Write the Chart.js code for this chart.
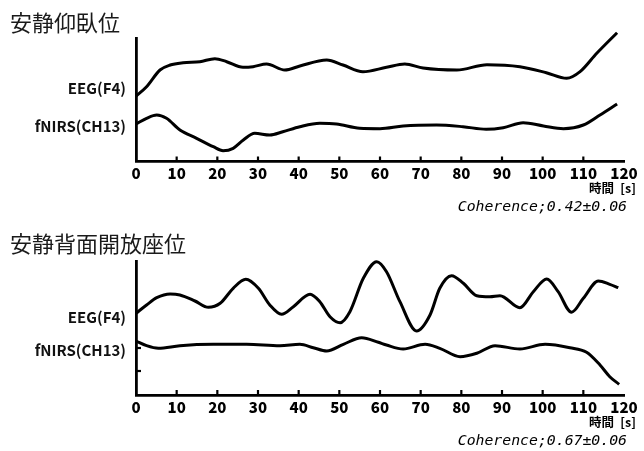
<!DOCTYPE html>
<html><head><meta charset="utf-8">
<script src="https://cdn.jsdelivr.net/npm/chart.js@4/dist/chart.umd.min.js"></script>
<style>
html,body{margin:0;padding:0;background:#fff;}
#wrap{position:relative;width:644px;height:451px;overflow:hidden;background:#fff;}
#c1{position:absolute;left:0;top:0;}
#c2{position:absolute;left:0;top:225px;}
</style></head><body>
<div id="wrap"><canvas id="c1" width="644" height="225"></canvas><canvas id="c2" width="644" height="226"></canvas></div>
<script>
// ---- data ----
const timeTicks = [0, 10, 20, 30, 40, 50, 60, 70, 80, 90, 100, 110, 120];
const seriesNames = ['EEG(F4)', 'fNIRS(CH13)'];
const panelTitles = ['安静仰臥位', '安静背面開放座位'];
const coherenceLabels = ['Coherence;0.42±0.06', 'Coherence;0.67±0.06'];
const axisTitle = '時間 [s]';

// panel 1 : 安静仰臥位 (arbitrary units)
const supineEEGTime = [0, 2.6, 5.9, 8.4, 11.6, 15.7, 19.4, 22.3, 26.3, 28.8, 32.1, 36.6, 40.3, 46.9, 50.9, 55.8, 61.6, 66.1, 70.6, 78.9, 86.3, 94.4, 100.9, 105.9, 109.2, 113.3, 118.3];
const supineEEG     = [65.5, 74.8, 91.5, 96.5, 98.8, 99.8, 102.8, 99.8, 94.2, 94.8, 97.5, 91.5, 95.5, 101.5, 96.5, 89.8, 94.2, 97.5, 93.5, 91.5, 96.8, 94.8, 88.8, 83.2, 89.8, 108.2, 128.8];
const supineNIRSTime = [0, 2.6, 5.1, 7.5, 10.8, 14.9, 19, 21.4, 23.9, 26.4, 29.2, 32.9, 36.1, 40.3, 45.2, 49.3, 55, 60, 65.7, 73.9, 80.4, 86.1, 90.3, 95.2, 100.2, 105.1, 110, 114.1, 118.3];
const supineNIRS     = [37.5, 43.2, 46.5, 43.2, 31.5, 23.2, 14.8, 10.8, 13.2, 21.5, 28.2, 26.5, 29.8, 34.8, 38.2, 37.5, 33.2, 32.8, 35.5, 36.5, 34.8, 32.2, 33.8, 38.8, 35.5, 32.8, 36.5, 46.5, 57.5];
const supineRange = [0, 123.5];
const supineLabelTicks = [73.5, 35.5];
const supineMinorTicks = [];

// panel 2 : 安静背面開放座位
const openEEGTime = [0, 2.6, 5.1, 8.4, 10.8, 14.5, 17.8, 20.7, 23.9, 27, 30.1, 32.9, 35.8, 38.7, 42.8, 45.2, 47.7, 50.2, 52.6, 55.9, 59.2, 61.6, 64.9, 69, 72.3, 74.7, 77.6, 80.5, 83.8, 87, 89.5, 94.4, 97.7, 101, 103.8, 107.1, 110, 113.7, 116.5, 118.6];
const openEEG     = [81.7, 90, 97.3, 101, 100, 94, 87.7, 91.7, 106.7, 115.7, 106.7, 90, 80.7, 88.3, 100.7, 93.3, 78.3, 72.3, 83.3, 116.7, 133.3, 123.3, 93.3, 64, 80, 106.7, 119.3, 111.7, 99.3, 98.3, 99.3, 87.3, 103.3, 116, 103.3, 82.7, 96.7, 114, 110.7, 107.3];
const openNIRSTime = [0, 2.6, 5.5, 10.8, 19, 27.2, 35.4, 40.3, 43.6, 46.9, 51, 55.5, 59.6, 61.6, 65.7, 71.1, 74.7, 79.7, 83.8, 88.3, 94.4, 100.6, 106.7, 110.8, 114.1, 116.5, 118.8];
const openNIRS     = [54, 49.3, 46.7, 49.3, 50.7, 50.7, 49.3, 50.7, 47.3, 44, 50.7, 57.3, 52.7, 50, 46, 50.7, 46.7, 38.3, 41.7, 49.3, 46, 50.7, 47.3, 42.7, 30, 18.3, 10.7];
const openRange = [0, 134];
const openLabelTicks = [78, 45];
const openMinorTicks = [47, 24];

// ---- drawing ----
const toPoints = (t, v) => t.map((x, i) => ({x: x, y: v[i]}));

const decor = {
  id: 'decor',
  afterDraw(chart, args, o) {
    const {ctx, chartArea: a, scales: {x, y}} = chart;
    ctx.save();
    ctx.strokeStyle = '#000';
    ctx.lineWidth = 2.2;
    x.ticks.forEach(t => {
      if (t.value > timeTicks[0] && t.value < timeTicks[timeTicks.length - 1]) {
        const px = x.getPixelForValue(t.value);
        ctx.beginPath(); ctx.moveTo(px, a.bottom); ctx.lineTo(px, a.bottom - 5); ctx.stroke();
      }
    });
    (o.minor || []).forEach(v => {
      const py = y.getPixelForValue(v);
      ctx.beginPath(); ctx.moveTo(a.left, py); ctx.lineTo(a.left + 5, py); ctx.stroke();
    });
    ctx.fillStyle = '#000';
    ctx.textAlign = 'right';
    ctx.textBaseline = 'middle';
    ctx.font = "bold 12.5px 'Noto Sans CJK JP'";
    ctx.fillText(axisTitle.replace(' ', '\u2002'), a.right + 12, a.bottom + 27);
    ctx.font = "italic 14.8px 'DejaVu Sans Mono'";
    ctx.fillText(o.coherence, a.right + 3, a.bottom + 46);
    ctx.restore();
  }
};

function makePanel(canvas, cfg) {
  const line = {
    borderColor: '#000', borderWidth: 3, pointRadius: 0, fill: false,
    cubicInterpolationMode: 'monotone', clip: false
  };
  return new Chart(canvas, {
    type: 'line',
    data: {
      datasets: [
        Object.assign({label: seriesNames[0], data: toPoints(cfg.eegT, cfg.eeg)}, line),
        Object.assign({label: seriesNames[1], data: toPoints(cfg.nirsT, cfg.nirs)}, line)
      ]
    },
    options: {
      responsive: false, animation: false, devicePixelRatio: 1,
      layout: {padding: {left: 10, right: 20, top: 0, bottom: cfg.padBottom}},
      plugins: {
        legend: {display: false}, tooltip: {enabled: false},
        title: {
          display: true, text: cfg.title, align: 'start', color: '#1a1a1a',
          font: {family: "'Noto Sans CJK JP'", size: 22, weight: 'normal', lineHeight: 1.2},
          padding: {top: cfg.titleTop, bottom: cfg.titleBottom}
        },
        decor: {coherence: cfg.coherence, minor: cfg.minor}
      },
      scales: {
        x: {
          type: 'linear', min: timeTicks[0], max: timeTicks[timeTicks.length - 1],
          afterBuildTicks: s => { s.ticks = timeTicks.map(v => ({value: v})); },
          afterFit: s => { s.height = 20; },
          grid: {drawOnChartArea: false, drawTicks: false},
          border: {display: true, color: '#000', width: 2.8},
          ticks: {color: '#000', padding: 3, maxRotation: 0, autoSkip: false,
                  font: {family: "'Noto Sans CJK JP'", size: 15, weight: '900'}}
        },
        y: {
          type: 'linear', min: cfg.range[0], max: cfg.range[1],
          afterBuildTicks: s => { s.ticks = cfg.labelTicks.map(v => ({value: v})); },
          afterFit: s => { s.width = 126; },
          grid: {drawOnChartArea: false, drawTicks: false},
          border: {display: true, color: '#000', width: 2.8},
          ticks: {color: '#111', padding: 10, autoSkip: false,
                  callback: (v, i) => seriesNames[i],
                  font: {family: "'Noto Sans CJK JP'", size: 15, weight: 'bold'}}
        }
      }
    },
    plugins: [decor]
  });
}

makePanel(document.getElementById('c1'), {
  title: panelTitles[0], coherence: coherenceLabels[0],
  eegT: supineEEGTime, eeg: supineEEG, nirsT: supineNIRSTime, nirs: supineNIRS,
  range: supineRange, labelTicks: supineLabelTicks, minor: supineMinorTicks,
  padBottom: 43.5, titleTop: 9, titleBottom: 2.6
});
makePanel(document.getElementById('c2'), {
  title: panelTitles[1], coherence: coherenceLabels[1],
  eegT: openEEGTime, eeg: openEEG, nirsT: openNIRSTime, nirs: openNIRS,
  range: openRange, labelTicks: openLabelTicks, minor: openMinorTicks,
  padBottom: 36, titleTop: 5, titleBottom: 4.6
});
</script>
</body></html>
